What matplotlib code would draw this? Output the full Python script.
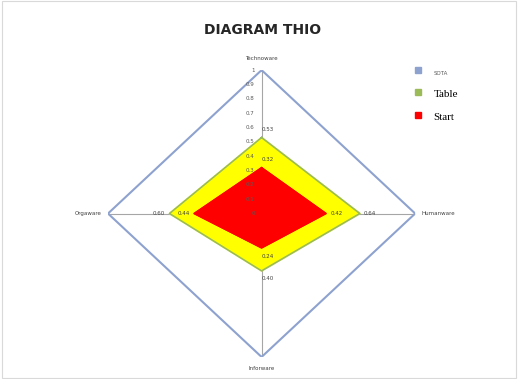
import matplotlib
matplotlib.use("Agg")
import matplotlib.pyplot as plt
import numpy as np

# data
categories = ["Technoware", "Humanware", "Inforware", "Orgaware"]
sota = [1, 1, 1, 1]
table_vals = [0.53, 0.64, 0.40, 0.60]
start_vals = [0.32, 0.42, 0.24, 0.44]
series_names = ["SOTA", "Table", "Start"]
tick_vals = [0, 0.1, 0.2, 0.3, 0.4, 0.5, 0.6, 0.7, 0.8, 0.9, 1]

angles = np.linspace(0, 2 * np.pi, len(categories), endpoint=False)
ang_c = np.append(angles, angles[0])

def closed(v):
    return np.append(v, v[0])

fig = plt.figure(figsize=(5.18, 3.79), dpi=100)
fig.patch.set_facecolor("white")
ax = fig.add_axes([0.2085, 0.0581, 0.593, 0.757], polar=True)
ax.set_aspect("auto")
ax.set_theta_offset(np.pi / 2)
ax.set_theta_direction(-1)
ax.set_ylim(0, 1)
ax.grid(False)
ax.spines["polar"].set_visible(False)
ax.set_xticks([])
ax.set_yticks([])

# spokes
for a in angles:
    ax.plot([a, a], [0, 1], color="#a6a6a6", lw=0.8, zorder=1)

# series
ax.fill(ang_c, closed(table_vals), color="#ffff00", zorder=2)
ax.plot(ang_c, closed(table_vals), color="#9bbb59", lw=1.2, zorder=3)
ax.fill(ang_c, closed(start_vals), color="#ff0000", zorder=4)
ax.plot(ang_c, closed(start_vals), color="#ff0000", lw=1.0, zorder=4)
ax.plot(ang_c, closed(sota), color="#8ea2cf", lw=1.5, zorder=5)

# tick labels along the top spoke
for t in tick_vals:
    ax.annotate(str(t), (0, t), xytext=(-5, 0), textcoords="offset points",
                ha="right", va="center", fontsize=4, color="#595959", zorder=6)

# data labels
offs = [(0, 4), (3, 0), (0, -4), (-3, 0)]
has = ["left", "left", "left", "right"]
vas = ["bottom", "center", "top", "center"]
for vals in (table_vals, start_vals):
    for a, v, o, h, va in zip(angles, vals, offs, has, vas):
        ax.annotate("%.2f" % v, (a, v), xytext=o, textcoords="offset points",
                    ha=h, va=va, fontsize=4, color="#404040", zorder=7)

# category labels
ax.text(angles[0], 1.06, categories[0], ha="center", va="bottom", fontsize=4, color="#404040")
ax.text(angles[1], 1.04, categories[1], ha="left", va="center", fontsize=4, color="#404040")
ax.text(angles[2], 1.06, categories[2], ha="center", va="top", fontsize=4, color="#404040")
ax.text(angles[3], 1.04, categories[3], ha="right", va="center", fontsize=4, color="#404040")

fig.text(0.506, 0.92, "DIAGRAM THIO", ha="center", va="center",
         fontsize=10, fontweight="bold", color="#262626")

# legend
h1 = plt.Line2D([], [], color="#8ea2cf", marker="s", ls="none", markersize=4)
h2 = plt.Line2D([], [], color="#9bbb59", marker="s", ls="none", markersize=4)
h3 = plt.Line2D([], [], color="#ff0000", marker="s", ls="none", markersize=4)
leg = fig.legend([h1, h2, h3], series_names, loc="upper left",
                 bbox_to_anchor=(0.77, 0.86), frameon=False,
                 labelspacing=0.8, handletextpad=0.6, handlelength=1)
txts = leg.get_texts()
txts[0].set_fontsize(4)
txts[0].set_color("#595959")
for t in txts[1:]:
    t.set_fontfamily("Liberation Serif")
    t.set_fontsize(8)

# chart border
fig.add_artist(plt.Rectangle((0.003, 0.003), 0.994, 0.994, transform=fig.transFigure,
                             fill=False, edgecolor="#d9d9d9", lw=0.8))

fig.savefig("out.png", dpi=100)
